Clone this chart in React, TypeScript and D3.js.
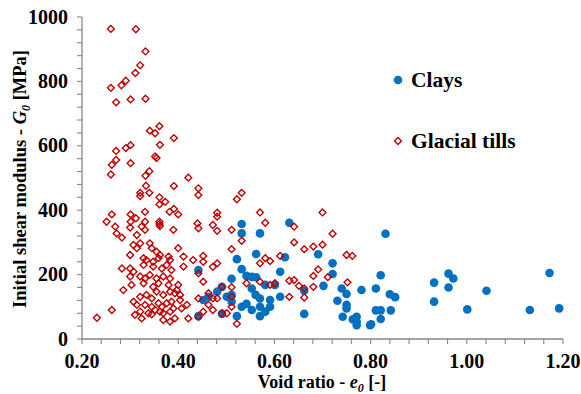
import React from "react";
import * as d3 from "d3";

const clayVoid = [0.532,0.532,0.570,0.631,0.562,0.622,0.691,0.522,0.532,0.721,0.721,0.442,0.612,0.542,0.553,0.562,0.511,0.491,0.481,0.511,0.553,0.581,0.601,0.561,0.570,0.591,0.612,0.662,0.702,0.740,0.781,0.750,0.731,0.532,0.542,0.553,0.570,0.570,0.591,0.581,0.522,0.491,0.442,0.662,0.750,0.750,0.742,0.771,0.771,0.763,0.771,0.799,0.831,0.821,0.811,0.840,0.851,0.811,0.821,0.842,0.821,0.801,0.932,0.932,0.962,0.972,0.962,1.041,1.001,1.131,1.172,1.192,0.463,0.452,0.501,0.511];
const clayG0 = [357,328,328,361,264,254,263,248,217,235,202,214,209,196,193,192,187,162,147,137,157,168,168,137,126,121,131,150,165,157,152,140,119,100,109,90,100,71,100,85,71,78,71,78,106,95,69,69,54,61,43,43,327,198,157,139,130,89,89,89,62,46,175,116,203,188,160,150,92,90,205,95,131,121,131,116];

const tillVoid = [
0.260,0.312,0.332,0.321,0.311,0.291,0.282,0.260,0.271,0.301,0.332,0.341,0.361,0.352,0.391,0.362,0.301,0.291,0.271,0.352,0.355,0.271,0.262,0.301,0.260,0.340,0.332,0.421,
0.333,0.391,0.442,0.442,0.321,0.340,0.321,0.361,0.373,0.361,0.331,0.382,0.391,0.400,0.262,0.251,0.301,0.301,0.312,0.331,0.361,0.361,0.440,0.442,
0.522,0.532,0.481,0.481,0.481,0.472,0.511,0.570,0.581,0.532,0.511,0.641,0.641,0.700,0.721,0.662,0.681,0.700,0.452,0.452,0.472,0.481,0.570,0.581,0.591,0.612,0.750,0.762,0.691,0.681,0.711,0.631,0.641,0.651,0.662,0.681,0.601,0.591,0.570,0.542,0.752,0.442,0.452,0.442,0.472,0.481,0.491,0.511,0.463,0.463,0.472,0.452,0.442,0.491,0.501,0.511,0.511,0.522,0.631,0.662,
0.269,0.300,0.324,0.331,0.362,0.390,
0.272,0.283,0.314,
0.307,0.314,0.321,0.341,0.345,0.355,0.362,0.380,0.400,
0.300,0.328,0.334,0.348,0.359,0.383,0.411,0.431,
0.283,0.300,0.307,0.328,0.348,0.366,0.376,0.386,0.411,
0.300,0.321,0.331,0.341,0.355,0.369,0.383,
0.286,0.303,0.328,0.348,0.359,0.380,0.400,0.397,
0.307,0.321,0.334,0.345,0.355,0.369,0.383,0.393,0.404,
0.314,0.331,0.345,0.359,0.366,0.376,0.386,0.404,0.418,
0.310,0.321,0.338,0.352,0.362,0.369,0.383,0.390,0.407,
0.231,0.262,0.324,0.345,0.369,0.383,0.393,0.421
];
const tillG0 = [
963,962,893,850,826,802,788,780,735,744,746,647,661,639,624,603,602,593,584,567,562,556,541,546,511,521,507,501,
476,475,468,447,454,454,444,440,426,418,395,395,404,387,387,364,387,364,375,364,364,357,359,344,
434,454,392,380,336,354,339,393,361,305,279,349,300,393,327,279,287,293,258,240,224,235,235,251,242,258,261,258,216,196,192,181,183,165,157,162,173,168,178,173,176,204,178,126,126,126,162,161,142,106,90,85,69,80,80,100,131,47,131,129,
349,346,349,339,351,339,
328,315,323,
292,282,297,297,282,271,261,256,282,
261,251,245,240,251,245,256,245,
219,219,209,230,225,219,230,214,225,
194,194,188,199,188,194,188,
152,168,173,162,173,168,168,152,
116,131,137,126,147,137,147,142,137,
106,106,100,111,100,111,116,121,106,
75,85,80,90,85,80,85,95,95,
66,90,64,77,59,54,64,64
];

const xTicks = [0.2, 0.4, 0.6, 0.8, 1.0, 1.2];
const yTicks = [0, 200, 400, 600, 800, 1000];
const legendLabels = ["Clays", "Glacial tills"];

const W = 581, H = 394;
const left = 82, right = 563, top = 17, bottom = 339;

export default function App() {
  const x = d3.scaleLinear().domain([0.2, 1.2]).range([left, right]);
  const y = d3.scaleLinear().domain([0, 1000]).range([bottom, top]);
  const xMinor = d3.range(0, 26).map((i) => 0.2 + i * 0.04);
  const yMinor = d3.range(0, 26).map((i) => i * 40);
  const diamond = d3.symbol().type(d3.symbolDiamond2).size(30)() as string;
  const axisColor = "#868686";
  const font = "'Liberation Serif', 'Times New Roman', serif";
  const clays = clayVoid.map((e, i) => [e, clayG0[i]]);
  const tills = tillVoid.map((e, i) => [e, tillG0[i]]);
  return (
    <svg width={W} height={H} style={{ position: "absolute", left: 0, top: 0, background: "#fff" }} fontFamily={font}>
      <rect width={W} height={H} fill="#fff" />
      <line x1={left} x2={left} y1={top} y2={bottom} stroke={axisColor} strokeWidth={1.3} />
      <line x1={left} x2={right} y1={bottom} y2={bottom} stroke={axisColor} strokeWidth={1.3} />
      {yMinor.map((v) => (
        <line key={"ym" + v} x1={left - 5} x2={left} y1={y(v)} y2={y(v)} stroke={axisColor} strokeWidth={1.1} />
      ))}
      {xMinor.map((v, i) => (
        <line key={"xm" + i} x1={x(v)} x2={x(v)} y1={bottom} y2={bottom + 5} stroke={axisColor} strokeWidth={1.1} />
      ))}
      {yTicks.map((v) => (
        <text key={"yt" + v} x={68} y={y(v) + 6.5} textAnchor="end" fontSize={20} fontWeight="bold" fill="#000">
          {v}
        </text>
      ))}
      {xTicks.map((v) => (
        <text key={"xt" + v} x={x(v)} y={368} textAnchor="middle" fontSize={20} fontWeight="bold" fill="#000">
          {v.toFixed(2)}
        </text>
      ))}
      <text x={322} y={388} textAnchor="middle" fontSize={18} fontWeight="bold">
        Void ratio - <tspan fontStyle="italic">e</tspan>
        <tspan fontStyle="italic" fontSize={12} dy={4}>0</tspan>
        <tspan dy={-4}> [-]</tspan>
      </text>
      <text transform={`translate(26,179) rotate(-90)`} textAnchor="middle" fontSize={18.5} fontWeight="bold">
        Initial shear modulus - <tspan fontStyle="italic">G</tspan>
        <tspan fontStyle="italic" fontSize={12} dy={4}>0</tspan>
        <tspan dy={-4}> [MPa]</tspan>
      </text>
      <g>
        {clays.map(([e, g], i) => (
          <circle key={"c" + i} cx={x(e)} cy={y(g)} r={4.3} fill="#0070C0" />
        ))}
      </g>
      <g>
        {tills.map(([e, g], i) => (
          <path key={"t" + i} d={diamond} transform={`translate(${x(e)},${y(g)})`} fill="none" stroke="#C00000" strokeWidth={1.4} />
        ))}
      </g>
      <circle cx={398} cy={80} r={4.3} fill="#0070C0" />
      <text x={411} y={87} fontSize={21.5} fontWeight="bold">{legendLabels[0]}</text>
      <path d={diamond} transform="translate(398,141)" fill="none" stroke="#C00000" strokeWidth={1.4} />
      <text x={411} y={148} fontSize={21.5} fontWeight="bold">{legendLabels[1]}</text>
    </svg>
  );
}
